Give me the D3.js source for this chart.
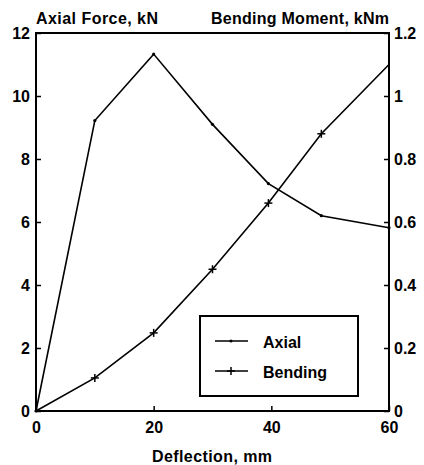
<!DOCTYPE html>
<html><head><meta charset="utf-8">
<script src="https://cdn.jsdelivr.net/npm/d3@7"></script>
<style>body{margin:0;background:#fff}text{font-family:"Liberation Sans",Arial,sans-serif;font-weight:bold;fill:#000}</style>
</head><body><svg id="c" width="424" height="465"></svg>
<script>
const deflection = [0, 10, 20, 30, 39.5, 48.5, 60];
const axialForce = [0, 9.22, 11.33, 9.1, 7.22, 6.2, 5.82];
const bendingMoment = [0, 0.105, 0.248, 0.45, 0.66, 0.88, 1.1];
const xTicks = [0, 20, 40, 60];
const leftTicks = [0, 2, 4, 6, 8, 10, 12];
const rightTicks = [0, 0.2, 0.4, 0.6, 0.8, 1, 1.2];
const seriesNames = ["Axial", "Bending"];

const svg = d3.select("#c");
const L = 36, R = 389, T = 33, B = 411;
const x = d3.scaleLinear().domain([0, 60]).range([L, R]);
const yL = d3.scaleLinear().domain([0, 12]).range([B, T]);
const yR = d3.scaleLinear().domain([0, 1.2]).range([B, T]);

// frame
svg.append("rect").attr("x", L).attr("y", T).attr("width", R - L).attr("height", B - T)
  .attr("fill", "none").attr("stroke", "#000").attr("stroke-width", 2);

// axes
const fs = 16;
const gx = svg.append("g").attr("transform", `translate(0,${B})`)
  .call(d3.axisBottom(x).tickValues(xTicks).tickSize(-5).tickPadding(11).tickFormat(d3.format("d")));
const gl = svg.append("g").attr("transform", `translate(${L},0)`)
  .call(d3.axisLeft(yL).tickValues(leftTicks).tickSize(-5).tickPadding(6).tickFormat(d3.format("d")));
const gr = svg.append("g").attr("transform", `translate(${R},0)`)
  .call(d3.axisRight(yR).tickValues(rightTicks).tickSize(-5).tickPadding(5).tickFormat(d => String(d)));
[gx, gl, gr].forEach(g => {
  g.select(".domain").remove();
  g.selectAll(".tick line").attr("stroke", "#000").attr("stroke-width", 1.5);
  g.selectAll(".tick text").attr("font-size", fs).attr("font-family", "Liberation Sans, Arial, sans-serif").attr("font-weight", "bold");
});

// lines
const lineA = d3.line().x((d, i) => x(deflection[i])).y(d => yL(d));
const lineB = d3.line().x((d, i) => x(deflection[i])).y(d => yR(d));
svg.append("path").attr("d", lineA(axialForce)).attr("fill", "none").attr("stroke", "#000").attr("stroke-width", 1.6);
svg.append("path").attr("d", lineB(bendingMoment)).attr("fill", "none").attr("stroke", "#000").attr("stroke-width", 1.6);

// markers
svg.selectAll(".am").data(axialForce).enter().append("circle")
  .attr("cx", (d, i) => x(deflection[i])).attr("cy", d => yL(d)).attr("r", 1.6).attr("fill", "#000");
const plus = (g, cx, cy, s) => {
  g.append("line").attr("x1", cx - s).attr("x2", cx + s).attr("y1", cy).attr("y2", cy).attr("stroke", "#000").attr("stroke-width", 1.5);
  g.append("line").attr("x1", cx).attr("x2", cx).attr("y1", cy - s).attr("y2", cy + s).attr("stroke", "#000").attr("stroke-width", 1.5);
};
const mg = svg.append("g");
bendingMoment.forEach((d, i) => { if (i > 0 && i < bendingMoment.length - 1) plus(mg, x(deflection[i]), yR(d), 4); });

// titles
svg.append("text").attr("x", 36).attr("y", 24).attr("font-size", 16).text("Axial Force, kN").attr("textLength", 122);
svg.append("text").attr("x", 389).attr("y", 24).attr("text-anchor", "end").attr("font-size", 16).text("Bending Moment, kNm").attr("textLength", 178);
svg.append("text").attr("x", 152).attr("y", 462).attr("font-size", 16).text("Deflection, mm").attr("textLength", 120);

// legend
const lg = svg.append("g");
lg.append("rect").attr("x", 200).attr("y", 316).attr("width", 158).attr("height", 80)
  .attr("fill", "#fff").attr("stroke", "#000").attr("stroke-width", 2);
const ly = [341, 371];
seriesNames.forEach((n, i) => {
  lg.append("line").attr("x1", 215).attr("x2", 248).attr("y1", ly[i]).attr("y2", ly[i]).attr("stroke", "#000").attr("stroke-width", 1.6);
  if (i === 0) lg.append("circle").attr("cx", 231).attr("cy", ly[i]).attr("r", 1.5).attr("fill", "#000");
  else plus(lg, 231, ly[i], 4);
  lg.append("text").attr("x", 263).attr("y", ly[i] + 7).attr("font-size", 16).text(n);
});
</script></body></html>
